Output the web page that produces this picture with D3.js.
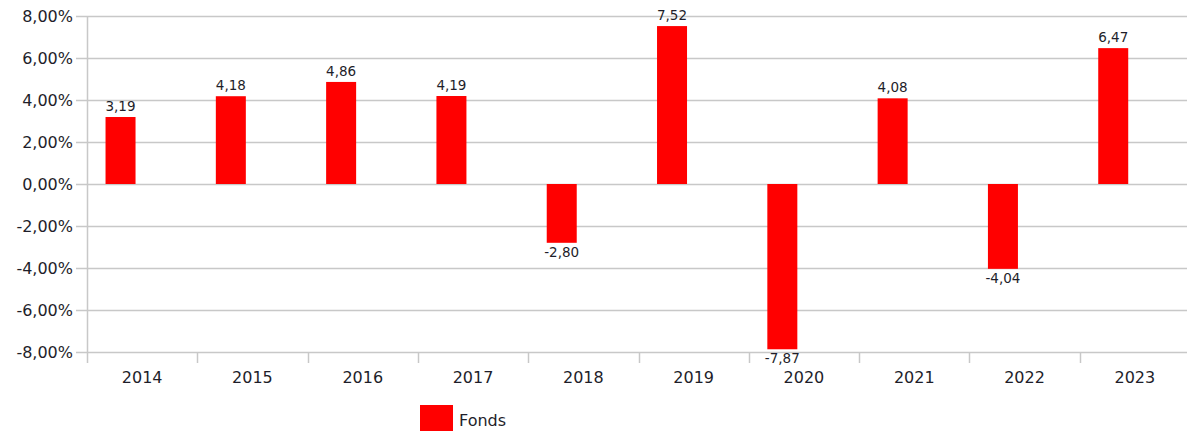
<!DOCTYPE html>
<html>
<head>
<meta charset="utf-8">
<script src="https://cdn.jsdelivr.net/npm/d3@7"></script>
<style>
  body { margin: 0; background: #fff; }
  svg { display: block; font-family: "DejaVu Sans", sans-serif; }
</style>
</head>
<body>
<div id="chart"></div>
<script>
// Chart data
const years = ["2014", "2015", "2016", "2017", "2018", "2019", "2020", "2021", "2022", "2023"];
const fonds = [3.19, 4.18, 4.86, 4.19, -2.80, 7.52, -7.87, 4.08, -4.04, 6.47];
const yTicks = [8, 6, 4, 2, 0, -2, -4, -6, -8];
const seriesName = "Fonds";

const width = 1187, height = 435;
const margin = { top: 16, right: -3, bottom: 83, left: 87 };

const svg = d3.select("#chart")
    .append("svg")
    .attr("width", width)
    .attr("height", height);

const x = d3.scaleBand()
    .domain(years)
    .range([margin.left, width - margin.right])
    .padding(0);

const y = d3.scaleLinear()
    .domain([-8, 8])
    .range([height - margin.bottom, margin.top]);

// decimal comma and a plain hyphen for negatives
const fmt = v => d3.format(".2f")(v).replace(".", ",").replace("\u2212", "-");

// horizontal gridlines
svg.append("g")
    .selectAll("line")
    .data(yTicks)
    .join("line")
    .attr("x1", margin.left - 11)
    .attr("x2", width)
    .attr("y1", d => Math.round(y(d)) + 0.5)
    .attr("y2", d => Math.round(y(d)) + 0.5)
    .attr("stroke", "#c8c8c8")
    .attr("stroke-width", 1.5);

// y axis line
svg.append("line")
    .attr("x1", margin.left + 0.5)
    .attr("x2", margin.left + 0.5)
    .attr("y1", y(8))
    .attr("y2", y(-8) + 11)
    .attr("stroke", "#c8c8c8")
    .attr("stroke-width", 1.5);

// y tick labels
svg.append("g")
    .selectAll("text")
    .data(yTicks)
    .join("text")
    .attr("x", margin.left - 14)
    .attr("y", d => y(d))
    .attr("dy", "0.36em")
    .attr("text-anchor", "end")
    .attr("fill", "#1e1e2a")
    .style("font-size", "16px")
    .text(d => fmt(d) + "%");

// x ticks at category boundaries
svg.append("g")
    .selectAll("line")
    .data(years.slice(1))
    .join("line")
    .attr("x1", d => Math.round(x(d)) + 0.5)
    .attr("x2", d => Math.round(x(d)) + 0.5)
    .attr("y1", y(-8))
    .attr("y2", y(-8) + 11)
    .attr("stroke", "#c8c8c8")
    .attr("stroke-width", 1.5);

// x labels
svg.append("g")
    .selectAll("text")
    .data(years)
    .join("text")
    .attr("x", d => x(d) + x.bandwidth() / 2)
    .attr("y", y(-8) + 31)
    .attr("text-anchor", "middle")
    .attr("fill", "#1e1e2a")
    .style("font-size", "16px")
    .text(d => d);

// bars
const barOffset = x.bandwidth() * 0.168;
const barWidth = x.bandwidth() * 0.272;

svg.append("g")
    .selectAll("rect")
    .data(fonds)
    .join("rect")
    .attr("x", (d, i) => x(years[i]) + barOffset)
    .attr("width", barWidth)
    .attr("y", d => y(Math.max(0, d)))
    .attr("height", d => Math.abs(y(d) - y(0)))
    .attr("fill", "#ff0000");

// value labels
svg.append("g")
    .selectAll("text")
    .data(fonds)
    .join("text")
    .attr("x", (d, i) => x(years[i]) + barOffset + barWidth / 2)
    .attr("y", d => d >= 0 ? y(d) - 6 : y(d) + 14)
    .attr("text-anchor", "middle")
    .attr("fill", "#1e1e2a")
    .style("font-size", "13.5px")
    .text(d => fmt(d));

// legend
const legend = svg.append("g").attr("transform", "translate(420,405)");
legend.append("rect")
    .attr("width", 33)
    .attr("height", 26)
    .attr("fill", "#ff0000");
legend.append("text")
    .attr("x", 39)
    .attr("y", 21)
    .attr("fill", "#1e1e2a")
    .style("font-size", "16px")
    .text(seriesName);
</script>
</body>
</html>
